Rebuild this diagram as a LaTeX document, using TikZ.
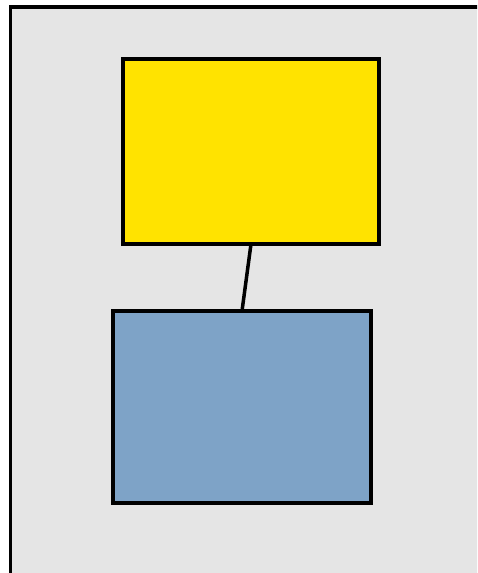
\documentclass[tikz,border=0pt]{standalone}
\begin{document}
\begin{tikzpicture}[x=1pt,y=-1pt,
  box/.style={draw=black,line width=3.5pt,rectangle,inner sep=0pt,outer sep=0pt},
  conn/.style={draw=black,line width=3.5pt}]
\definecolor{bg}{HTML}{E5E5E5}
\definecolor{yel}{HTML}{FFE300}
\definecolor{blu}{HTML}{7EA3C7}
\useasboundingbox (0,0) rectangle (477,573);
\clip (0,0) rectangle (477,573);
\node[box,fill=bg,minimum width=480pt,minimum height=584pt] (frame) at (250.5,299) {};
\node[box,fill=yel,minimum width=256pt,minimum height=185pt] (top) at (251,151.5) {};
\node[box,fill=blu,minimum width=258pt,minimum height=192pt] (bottom) at (242,407) {};
\draw[conn] (top.south) -- (bottom.north);
\end{tikzpicture}
\end{document}
